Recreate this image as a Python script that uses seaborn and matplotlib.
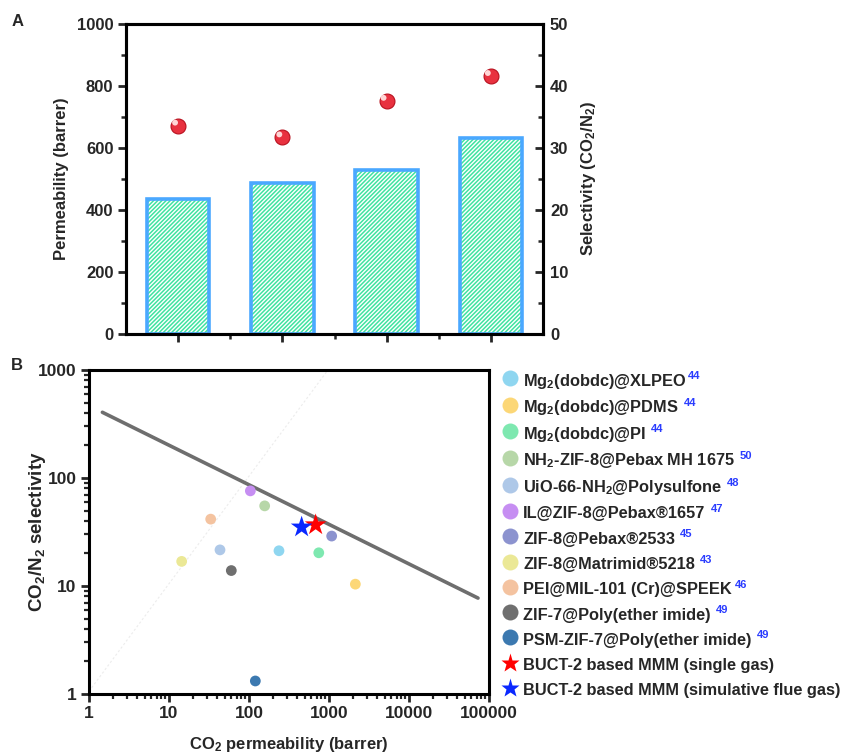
import numpy as np
import pandas as pd
import matplotlib
matplotlib.use("Agg")
import matplotlib.pyplot as plt
import matplotlib.transforms as mtransforms
from matplotlib.lines import Line2D
from matplotlib.ticker import FixedLocator, NullFormatter, LogLocator
import seaborn as sns

# ---------------- data ----------------
# Panel A
samples = ["S1", "S2", "S3", "S4"]
permeability = [436, 487, 528, 633]
selectivity = [33.6, 31.7, 37.6, 41.6]

# Panel B
materials = [
    "Mg$_2$(dobdc)@XLPEO",
    "Mg$_2$(dobdc)@PDMS",
    "Mg$_2$(dobdc)@PI",
    "NH$_2$-ZIF-8@Pebax MH 1675",
    "UiO-66-NH$_2$@Polysulfone",
    "IL@ZIF-8@Pebax\u00ae1657",
    "ZIF-8@Pebax\u00ae2533",
    "ZIF-8@Matrimid\u00ae5218",
    "PEI@MIL-101 (Cr)@SPEEK",
    "ZIF-7@Poly(ether imide)",
    "PSM-ZIF-7@Poly(ether imide)",
    "BUCT-2 based MMM (single gas)",
    "BUCT-2 based MMM (simulative flue gas)",
]
refs = ["44", "44", "44", "50", "48", "47", "45", "43", "46", "49", "49", "", ""]
co2_perm = [237, 2135, 745, 157, 43.4, 104, 1080, 14.4, 33.2, 60.1, 120, 681, 455]
co2_n2_sel = [21.2, 10.4, 20.3, 55.2, 21.6, 76, 29, 16.9, 41.6, 13.9, 1.32, 36.8, 35.1]
colors = ["#8fd6f0", "#fcd777", "#7ee8b0", "#b7d7a8", "#aec8e8", "#c68ef2",
          "#8c93cf", "#ebe896", "#f4c3a0", "#6f6f6f", "#3c79b0", "#ff0000", "#0a28ff"]
shapes = ["o"] * 11 + ["*", "*"]

robeson_x = [1.47, 72870]
robeson_y = [406, 7.73]
diag_x = [1.0, 970]
diag_y = [1.06, 1000]

# ---------------- style ----------------
sns.set_theme(style="ticks")
plt.rcParams["font.family"] = ["Liberation Sans", "DejaVu Sans"]
plt.rcParams["font.weight"] = "bold"
plt.rcParams["axes.labelweight"] = "bold"
plt.rcParams["mathtext.fontset"] = "custom"
plt.rcParams["mathtext.rm"] = "Liberation Sans:bold"
plt.rcParams["mathtext.it"] = "Liberation Sans:bold"
plt.rcParams["mathtext.bf"] = "Liberation Sans:bold"
plt.rcParams["mathtext.default"] = "rm"
plt.rcParams["hatch.linewidth"] = 1.1

W, H = 852, 755
fig = plt.figure(figsize=(W / 100, H / 100), dpi=100)

def rect(l, t, r, b):
    return [l / W, 1 - b / H, (r - l) / W, (b - t) / H]

# ---------------- Panel A ----------------
ax1 = fig.add_axes(rect(126, 24, 543, 334))
dfA = pd.DataFrame({"sample": samples, "perm": permeability})
HATCH = "////////"
sns.barplot(data=dfA, x="sample", y="perm", ax=ax1, color="white",
            edgecolor="#3fe3a0", hatch=HATCH, linewidth=0, width=0.6,
            errorbar=None)
for p in ax1.patches:
    p.set_hatch(HATCH)
    p.set_edgecolor("#3fe3a0")
    p.set_linewidth(0)
sns.barplot(data=dfA, x="sample", y="perm", ax=ax1, fill=False,
            color="#4aa8ff", linewidth=2.5, width=0.6, errorbar=None)
for p in ax1.patches[len(samples):]:
    p.set_edgecolor("#4aa8ff")
    p.set_linewidth(2.6)

ax1.set_xlim(-0.5, 3.5)
ax1.set_ylim(0, 1000)
ax1.set_yticks(np.arange(0, 1001, 200))
ax1.set_yticks(np.arange(100, 1000, 200), minor=True)
ax1.set_xticks([0, 1, 2, 3])
ax1.set_xticks([0.5, 1.5, 2.5], minor=True)
ax1.tick_params(axis="x", labelbottom=False)
ax1.set_xlabel("")
ax1.set_ylabel("Permeability (barrer)", fontsize=12, labelpad=6)
ax1.tick_params(axis="both", which="major", direction="out", length=6, width=2,
                labelsize=12, pad=3)
ax1.tick_params(axis="both", which="minor", direction="out", length=3.5, width=1.8)
for s in ax1.spines.values():
    s.set_linewidth(2.2)
    s.set_color("black")
for lab in ax1.get_yticklabels():
    lab.set_fontweight("bold")

ax2 = ax1.twinx()
xs = np.arange(len(samples))
sns.scatterplot(x=xs, y=selectivity, ax=ax2, s=115, color="#e8313f",
                edgecolor="#b8101e", linewidth=0.8, zorder=5)
hl = mtransforms.ScaledTranslation(-2.2 / 72, 2.2 / 72, fig.dpi_scale_trans)
ax2.scatter(xs, selectivity, s=18, color="#ffd6d6", edgecolor="none",
            transform=ax2.transData + hl, zorder=6)
ax2.set_ylim(0, 50)
ax2.set_yticks(np.arange(0, 51, 10))
ax2.set_yticks(np.arange(5, 50, 10), minor=True)
ax2.set_ylabel("Selectivity (CO$_2$/N$_2$)", fontsize=12, labelpad=8)
ax2.tick_params(axis="y", which="major", direction="in", length=6, width=2,
                labelsize=12, pad=5)
ax2.tick_params(axis="y", which="minor", direction="in", length=3.5, width=1.8)
for s in ax2.spines.values():
    s.set_linewidth(2.2)
    s.set_color("black")
for lab in ax2.get_yticklabels():
    lab.set_fontweight("bold")

fig.text(18 / W, 1 - 21 / H, "A", fontsize=12, fontweight="bold",
         ha="center", va="center")

# ---------------- Panel B ----------------
ax3 = fig.add_axes(rect(89, 370, 489, 694))
ax3.set_xscale("log")
ax3.set_yscale("log")
sns.lineplot(x=diag_x, y=diag_y, ax=ax3, color="#ececec", linewidth=0.8,
             linestyle=(0, (2, 2)))
sns.lineplot(x=robeson_x, y=robeson_y, ax=ax3, color="#6e6e6e", linewidth=2.6)

dfB = pd.DataFrame({"mat": materials, "x": co2_perm, "y": co2_n2_sel})
circ = dfB.iloc[:11]
star = dfB.iloc[11:]
sns.scatterplot(data=circ, x="x", y="y", hue="mat",
                palette=dict(zip(materials, colors)), s=60, edgecolor="none",
                legend=False, ax=ax3, zorder=4)
sns.scatterplot(data=star, x="x", y="y", hue="mat",
                palette=dict(zip(materials, colors)), s=270, marker="*",
                edgecolor="none", legend=False, ax=ax3, zorder=5)

ax3.set_xlim(1, 1e5)
ax3.set_ylim(1, 1000)
xt = [1, 10, 100, 1000, 10000, 100000]
yt = [1, 10, 100, 1000]
ax3.xaxis.set_major_locator(FixedLocator(xt))
ax3.yaxis.set_major_locator(FixedLocator(yt))
ax3.set_xticklabels([str(v) for v in xt])
ax3.set_yticklabels([str(v) for v in yt])
ax3.xaxis.set_minor_locator(LogLocator(base=10, subs=np.arange(2, 10), numticks=20))
ax3.yaxis.set_minor_locator(LogLocator(base=10, subs=np.arange(2, 10), numticks=20))
ax3.xaxis.set_minor_formatter(NullFormatter())
ax3.yaxis.set_minor_formatter(NullFormatter())
ax3.tick_params(axis="both", which="major", direction="out", length=6, width=2,
                labelsize=12.5, pad=3)
ax3.tick_params(axis="both", which="minor", direction="out", length=3.5, width=1.6)
for lab in ax3.get_xticklabels() + ax3.get_yticklabels():
    lab.set_fontweight("bold")
for s in ax3.spines.values():
    s.set_linewidth(2.2)
    s.set_color("black")
ax3.set_xlabel("CO$_2$ permeability (barrer)", fontsize=12)
ax3.set_ylabel("CO$_2$/N$_2$ selectivity", fontsize=13.5)
ax3.xaxis.set_label_coords(0.5, -0.125)
ax3.yaxis.set_label_coords(-0.102, 0.5)

fig.text(17 / W, 1 - 365 / H, "B", fontsize=12, fontweight="bold",
         ha="center", va="center")

# legend
handles = []
for m, c, sh in zip(materials, colors, shapes):
    if sh == "o":
        h = Line2D([], [], linestyle="none", marker="o", markersize=11.5,
                   markerfacecolor=c, markeredgecolor="none", label=m)
    else:
        h = Line2D([], [], linestyle="none", marker="*", markersize=14,
                   markerfacecolor=c, markeredgecolor="none", label=m)
    handles.append(h)

fs = 11.8
leg = fig.legend(handles=handles, loc="upper left",
                 bbox_to_anchor=(503.5 / W, 1 - 371 / H),
                 bbox_transform=fig.transFigure, frameon=False,
                 fontsize=fs, handlelength=0.8, handletextpad=0.4,
                 handleheight=1.35, labelspacing=0.42, borderpad=0,
                 borderaxespad=0)
for t in leg.get_texts():
    t.set_fontweight("bold")

fig.canvas.draw()
renderer = fig.canvas.get_renderer()
inv = fig.transFigure.inverted()
gaps = [1.5, 5, 5, 5, 5, 5, 5, 5, 3, 5, 5, 0, 0]
for t, h, r, g in zip(leg.get_texts(), leg.legend_handles, refs, gaps):
    if not r:
        continue
    tb = t.get_window_extent(renderer)
    hb = h.get_window_extent(renderer)
    yc = 0.5 * (hb.y0 + hb.y1)
    x, y = inv.transform((tb.x1 + g, yc + 7))
    fig.text(x, y, r, color="#2a3cff", fontsize=8, fontweight="bold",
             ha="left", va="top")

fig.savefig("out.png", dpi=100)
